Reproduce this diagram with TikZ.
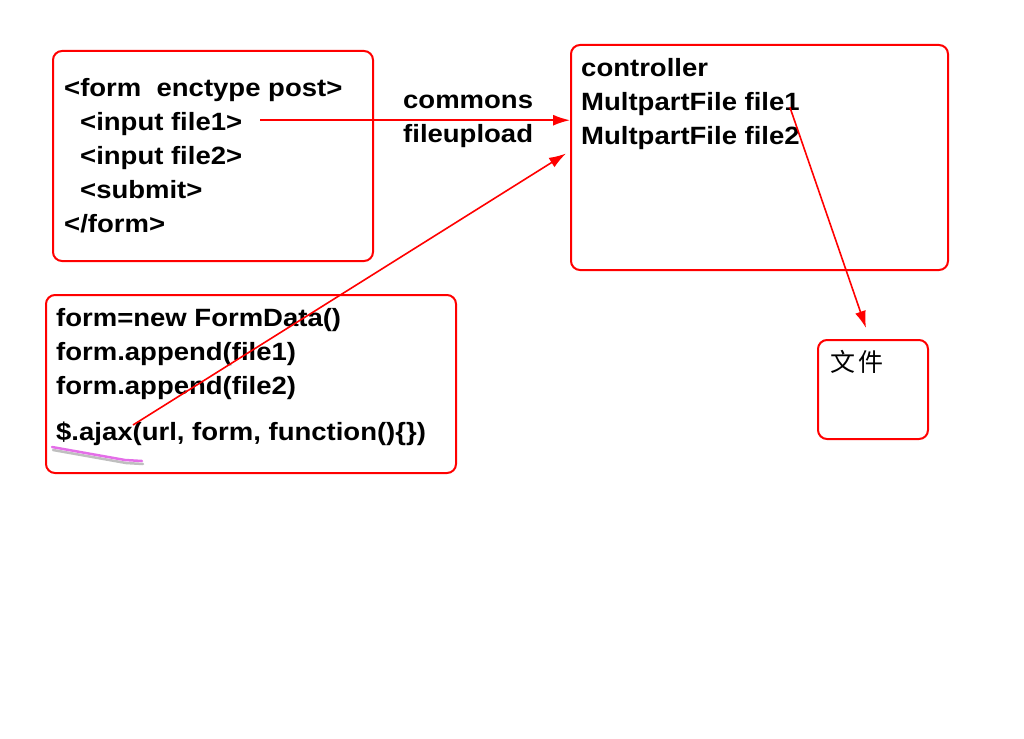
\documentclass[tikz,border=0pt]{standalone}
\usepackage{fontspec}
\setmainfont{Liberation Sans}[FakeStretch=1.1]
\newfontfamily\cjkfont{Noto Sans CJK SC}
\usetikzlibrary{matrix,positioning,arrows.meta,calc}
\definecolor{hilite}{RGB}{228,110,232}

\begin{document}
\begin{tikzpicture}[x=1pt,y=-1pt,
	box/.style={draw=red, line width=2pt, rounded corners=9pt, anchor=north west, inner sep=0pt},
	lines/.style={matrix of nodes, anchor=north west, inner sep=0pt, row sep=11pt,
		nodes={anchor=base west, inner sep=0pt, text height=18pt, text depth=5pt, font=\fontsize{25}{28}\selectfont\bfseries}},
	conn/.style={draw=red, line width=1.6pt, -{Latex[length=17pt,width=11pt]}}]
	\useasboundingbox (0,0) rectangle (1024,738);

	% boxes
	\node[box, minimum width=320pt, minimum height=210pt] (form) at (52,50) {};
	\node[box, minimum width=377pt, minimum height=225pt] (ctrl) at (570,44) {};
	\node[box, minimum width=410pt, minimum height=178pt] (fd) at (45,294) {};
	\node[box, minimum width=110pt, minimum height=99pt] (file) at (817,339) {};

	% texts
	\matrix (fm)[lines] at (64,78) {
		<form\ \ enctype post>\\
		\hspace*{16pt}<input file1>\\
		\hspace*{16pt}<input file2>\\
		\hspace*{16pt}<submit>\\
		</form>\\
	};
	\matrix (cm)[lines] at (581,58) {
		controller\\
		MultpartFile file1\\
		MultpartFile file2\\
	};
	\matrix (lib)[lines] at (403,90) {
		commons\\
		fileupload\\
	};
	\matrix (dm)[lines] at (56,308) {
		form=new FormData()\\
		form.append(file1)\\
		form.append(file2)\\[12pt]
		\$.ajax(url, form, function()\{\})\\
	};
	\node[anchor=west, inner sep=0pt, font=\fontsize{25}{28}\selectfont\cjkfont] (wj) at (830,362) {文\hspace{3pt}件};

	% underline
	\draw[gray!50, line width=2.5pt, line cap=round] (53,450) -- (126,463) -- (143,464);
	\draw[hilite, line width=2.5pt, line cap=round] (52,447) -- (125,460) -- (142,461);

	% connectors
	\coordinate (a1) at ([xshift=18pt,yshift=10pt]fm-2-1.base east);
	\coordinate (a2) at (133,425);
	\coordinate (a3) at ([xshift=-10pt,yshift=3pt]cm-2-1.base east);
	\draw[conn] (a1) -- (a1 -| ctrl.west);
	\draw[conn] (a2) -- ([xshift=-4pt,yshift=4pt]ctrl.west);
	\draw[conn] (a3) -- ([xshift=-7pt,yshift=11pt]file.north);
\end{tikzpicture}
\end{document}
